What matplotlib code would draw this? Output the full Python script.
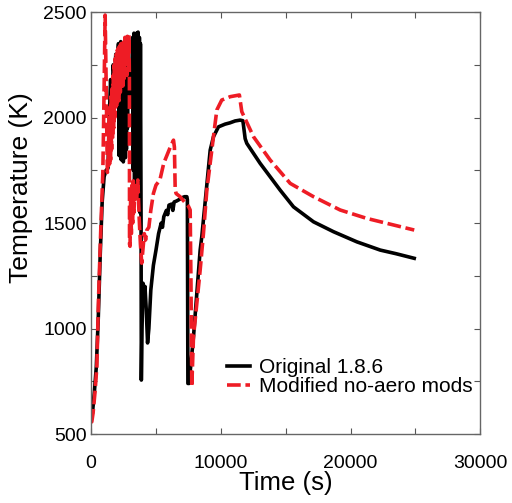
import matplotlib
matplotlib.use('Agg')
import matplotlib.pyplot as plt
from matplotlib.ticker import MultipleLocator

plt.rcParams['font.family'] = ['Liberation Sans', 'DejaVu Sans']

# Original 1.8.6
t_orig = [0, 100, 250, 400, 550, 700, 850, 1000, 1150, 1300, 1400, 1500, 1600, 1700, 1800, 1900, 2000, 2100,
          2120, 2160, 2200, 2240, 2280, 2320, 2360, 2400, 2440, 2480, 2520, 2560, 2600, 2640, 2680, 2720, 2760, 2800, 2840,
          2900, 2950, 3000, 3100, 3200, 3250, 3300, 3350, 3400, 3450, 3500, 3560, 3620, 3680, 3720, 3760, 3800, 3850,
          3870, 3920, 4000, 4050, 4150, 4250, 4350, 4450, 4600, 4800, 5000, 5200, 5400, 5500, 5600, 5800, 5900, 6000,
          6200, 6300, 6400, 6600, 6800, 7000, 7200, 7380, 7420, 7460, 7550, 7890, 8405, 8530, 9180, 9430, 9815, 10330,
          10700, 11100, 11490, 11700, 11875, 12000, 13030, 14575, 15600, 17145, 18690, 20490, 22290, 23500, 24910]
T_orig = [570, 600, 700, 820, 1050, 1350, 1600, 1720, 1750, 1760, 2000, 2180, 2050, 2250, 2180, 2300, 2250, 2350,
          2350, 1820, 2330, 1850, 2360, 1800, 2300, 1880, 2340, 1790, 2320, 1900, 2350, 1810, 2280, 1850, 2300, 1950, 2200,
          2250, 2100, 2200, 2050, 2380, 1750, 2400, 1700, 2380, 1800, 2400, 1650, 2405, 1900, 2380, 1550, 2350, 1500,
          756, 1000, 1215, 1150, 1200, 1088, 932, 1000, 1182, 1300, 1372, 1450, 1500, 1480, 1530, 1560, 1540, 1585,
          1590, 1560, 1600, 1605, 1612, 1620, 1625, 1625, 1610, 740, 740, 961, 1372, 1435, 1846, 1909, 1956, 1969,
          1975, 1984, 1988, 1985, 1900, 1878, 1783, 1656, 1577, 1506, 1459, 1411, 1372, 1355, 1333]

# Modified no-aero mods
t_mod = [0, 50, 150, 300, 440, 565, 750, 900, 950, 1080, 1150, 1250, 1320,
         1380, 1420, 1460, 1500, 1540, 1580, 1620, 1660, 1700, 1740, 1780, 1820, 1860, 1900, 1940, 1980, 2020, 2060,
         2100, 2150, 2200, 2250, 2300, 2350, 2400, 2450, 2500, 2550, 2600, 2650, 2700, 2750, 2800, 2850, 2920, 2950,
         2960, 3000, 3050, 3100, 3150, 3200, 3250, 3300, 3400, 3500, 3600, 3700, 3800, 3900, 4000, 4100, 4200, 4300,
         4450, 4600, 4800, 5000, 5300, 5600, 5850, 6100, 6350, 6420, 6480, 6550, 6860, 7200, 7500, 7635, 7700, 7760,
         7890, 8405, 8660, 8920, 9430, 9690, 10070, 10720, 11430, 11615, 12520, 13800, 15350, 17145, 19200, 21260,
         23315, 24910]
T_mod = [560, 558, 600, 700, 819, 1135, 1482, 1736, 1925, 2486, 2200, 1740, 1760,
         2000, 1780, 2050, 1800, 2100, 1850, 2150, 1900, 2200, 1950, 2250, 2000, 2280, 2050, 2300, 2050, 2320, 2100,
         2330, 2080, 2340, 2120, 2350, 2150, 2360, 2150, 2370, 2180, 2380, 2200, 2380, 2200, 2385, 2250, 2390, 2178,
         1400, 1390, 1650, 1450, 1680, 1500, 1700, 1550, 1690, 1600, 1704, 1530, 1400, 1310, 1380, 1450, 1420, 1467,
         1480, 1560, 1640, 1680, 1704, 1784, 1822, 1860, 1893, 1860, 1660, 1640, 1625, 1600, 1580, 1562, 1200, 724,
         961, 1277, 1452, 1656, 1909, 2036, 2083, 2099, 2107, 2028, 1909, 1799, 1688, 1625, 1562, 1522,
         1491, 1467]

fig = plt.figure(figsize=(5.12, 5.03), dpi=100)
ax = fig.add_axes([0.178, 0.137, 0.76, 0.839])

ax.plot(t_orig, T_orig, color='black', lw=2.6, label='Original 1.8.6')
ax.plot(t_mod, T_mod, color='#ee1c25', lw=2.6, ls=(0, (3.8, 1.3)), label='Modified no-aero mods')

ax.set_xlim(0, 30000)
ax.set_ylim(500, 2500)
ax.xaxis.set_major_locator(MultipleLocator(10000))
ax.xaxis.set_minor_locator(MultipleLocator(5000))
ax.yaxis.set_major_locator(MultipleLocator(500))
ax.yaxis.set_minor_locator(MultipleLocator(250))
ax.tick_params(which='both', direction='in', top=True, right=True, length=4, width=0.8,
               color='#555555', labelsize=14)
ax.tick_params(axis='x', pad=15)
ax.tick_params(axis='y', pad=3)
for s in ax.spines.values():
    s.set_color('#666666')
    s.set_linewidth(1.0)

ax.set_xlabel('Time (s)', fontsize=18.5, labelpad=-1)
ax.set_ylabel('Temperature (K)', fontsize=19)
ax.yaxis.set_label_coords(-0.149, 0.583)

ax.legend(loc='upper left', bbox_to_anchor=(0.322, 0.205), frameon=False, fontsize=15,
          handlelength=1.1, handletextpad=0.43, labelspacing=0.0, borderpad=0)

fig.savefig('out.png', dpi=100)
